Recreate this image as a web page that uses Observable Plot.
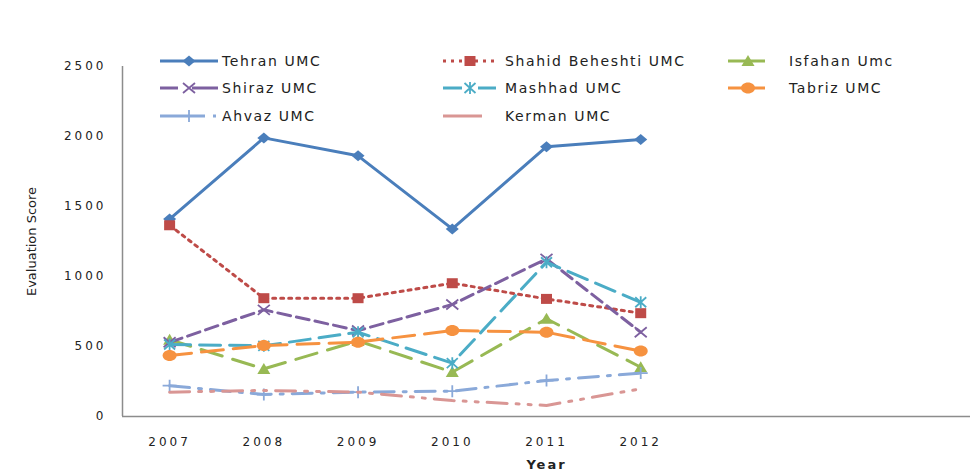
<!DOCTYPE html>
<html>
<head>
<meta charset="utf-8">
<script src="https://cdn.jsdelivr.net/npm/d3@7"></script>
<script src="https://cdn.jsdelivr.net/npm/@observablehq/plot@0.6"></script>
<style>
  html, body { margin: 0; padding: 0; background: #fff; }
  #wrap { position: relative; width: 979px; height: 471px; overflow: hidden; }
  #legend { position: absolute; left: 0; top: 0; pointer-events: none; }
  #wrap g[aria-label="y-axis tick label"] text { letter-spacing: 3px; }
  #wrap g[aria-label="x-axis tick label"] text { letter-spacing: 3px; }
  #wrap g[aria-label="x-axis label"] text { font-weight: bold; font-size: 13px; letter-spacing: 2px; }
  #wrap g[aria-label="y-axis label"] text { font-size: 13px; }
</style>
</head>
<body>
<div id="wrap"></div>
<script>
// ---- data ----
const years = [2007, 2008, 2009, 2010, 2011, 2012];
const yTicks = [0, 500, 1000, 1500, 2000, 2500];
const seriesNames = ["Tehran UMC", "Shahid Beheshti UMC", "Isfahan Umc", "Shiraz UMC", "Mashhad UMC", "Tabriz UMC", "Ahvaz UMC", "Kerman UMC"];
const tehran  = [1410, 1990, 1862, 1340, 1927, 1978];
const shahid  = [1366, 845, 845, 952, 840, 738];
const isfahan = [548, 340, 540, 317, 698, 352];
const shiraz  = [530, 762, 614, 800, 1126, 602];
const mashhad = [514, 505, 602, 381, 1102, 816];
const tabriz  = [436, 507, 531, 614, 602, 467];
const ahvaz   = [220, 157, 174, 181, 257, 310];
const kerman  = [174, 186, 174, 114, 79, 198];
const seriesValues = [tehran, shahid, isfahan, shiraz, mashhad, tabriz, ahvaz, kerman];

// ---- custom marker symbols ----
const sym = {
  diamond: { draw(c) { c.moveTo(0, -5.5); c.lineTo(6.5, 0); c.lineTo(0, 5.5); c.lineTo(-6.5, 0); c.closePath(); } },
  square: { draw(c) { c.moveTo(-5.5, -5); c.lineTo(5.5, -5); c.lineTo(5.5, 5); c.lineTo(-5.5, 5); c.closePath(); } },
  triangle: { draw(c) { c.moveTo(0, -6); c.lineTo(6.5, 5); c.lineTo(-6.5, 5); c.closePath(); } },
  times: { draw(c) { c.moveTo(-6, -5); c.lineTo(6, 5); c.moveTo(-6, 5); c.lineTo(6, -5); } },
  asterisk: { draw(c) { c.moveTo(-5.5, -5); c.lineTo(5.5, 5); c.moveTo(-5.5, 5); c.lineTo(5.5, -5); c.moveTo(0, -6); c.lineTo(0, 6); } },
  ellipse: { draw(c) { const rx = 7, ry = 5.5, k = 0.5523;
    c.moveTo(rx, 0);
    c.bezierCurveTo(rx, ry * k, rx * k, ry, 0, ry);
    c.bezierCurveTo(-rx * k, ry, -rx, ry * k, -rx, 0);
    c.bezierCurveTo(-rx, -ry * k, -rx * k, -ry, 0, -ry);
    c.bezierCurveTo(rx * k, -ry, rx, -ry * k, rx, 0);
    c.closePath(); } },
  plus: { draw(c) { c.moveTo(-7, 0); c.lineTo(7, 0); c.moveTo(0, -6); c.lineTo(0, 6); } }
};

// ---- styles ----
const styles = [
  { color: "#4A7EBB", dash: null, symbol: sym.diamond, filled: true, legendDash: null },
  { color: "#BE4B48", dash: "3 5", symbol: sym.square, filled: true, legendDash: "3 5" },
  { color: "#98B954", dash: "22 11", symbol: sym.triangle, filled: true, legendDash: null },
  { color: "#7D60A0", dash: "13 6", symbol: sym.times, filled: false, legendDash: "18 14 30" },
  { color: "#4BACC6", dash: "21 9", symbol: sym.asterisk, filled: false, legendDash: "19 16 30" },
  { color: "#F69240", dash: "22 10", symbol: sym.ellipse, filled: true, legendDash: null },
  { color: "#8AA9D9", dash: "20 9 3 9", symbol: sym.plus, filled: false, legendDash: "45 8 3 20" },
  { color: "#D99694", dash: "20 9 3 9 3 9", symbol: null, filled: false, legendDash: "39 14 3 20" }
];

const xDomain = [2006.5, 2015.5];

const seriesMarks = [];
seriesNames.forEach((name, i) => {
  const rows = years.map((yr, j) => ({ year: yr, value: seriesValues[i][j], series: name }));
  const st = styles[i];
  seriesMarks.push(Plot.line(rows, {
    x: "year", y: "value", stroke: st.color, strokeWidth: 3,
    strokeDasharray: st.dash || undefined, strokeLinejoin: "round", curve: "linear"
  }));
  if (st.symbol) {
    seriesMarks.push(Plot.dot(rows, st.filled
      ? { x: "year", y: "value", symbol: st.symbol, fill: st.color, stroke: "none", r: 5 }
      : { x: "year", y: "value", symbol: st.symbol, fill: "none", stroke: st.color, strokeWidth: 1.8, r: 5 }));
  }
});

const chart = Plot.plot({
  width: 979,
  height: 471,
  marginLeft: 122,
  marginRight: 9,
  marginTop: 66,
  marginBottom: 55,
  style: { fontFamily: "DejaVu Sans", fontSize: "12px", color: "#222", background: "#fff" },
  x: { domain: xDomain },
  y: { domain: [0, 2500] },
  marks: [
    Plot.axisY({ ticks: yTicks, tickSize: 0, tickPadding: 16, tickFormat: d => String(d),
      label: "Evaluation Score", labelAnchor: "center", labelOffset: 96, labelArrow: "none" }),
    Plot.axisX({ ticks: years, tickSize: 0, tickPadding: 21, tickFormat: d => String(d),
      label: "Year", labelAnchor: "center", labelOffset: 52, labelArrow: "none" }),
    Plot.ruleX([xDomain[0]], { stroke: "#8c8c8c", strokeWidth: 1.5 }),
    Plot.ruleY([0], { stroke: "#8c8c8c", strokeWidth: 1.5 }),
    ...seriesMarks
  ]
});
document.getElementById("wrap").appendChild(chart);

// ---- legend overlay ----
const legendCols = [
  { x0: 160, x1: 218, m: 189, tx: 222 },
  { x0: 443, x1: 496, m: 470, tx: 505 },
  { x0: 728, x1: 765, m: 748, tx: 789 }
];
const legendRows = [61, 88, 116];
const lg = d3.select("#wrap").append("svg")
  .attr("id", "legend").attr("width", 979).attr("height", 135);
seriesNames.forEach((name, i) => {
  const col = legendCols[i % 3], y = legendRows[Math.floor(i / 3)], st = styles[i];
  const g = lg.append("g");
  g.append("line").attr("x1", col.x0).attr("x2", col.x1).attr("y1", y).attr("y2", y)
    .attr("stroke", st.color).attr("stroke-width", 3)
    .attr("stroke-dasharray", st.legendDash || null);
  if (st.symbol) {
    g.append("path").attr("d", d3.symbol(st.symbol, 64)())
      .attr("transform", `translate(${col.m},${y})`)
      .attr("fill", st.filled ? st.color : "none")
      .attr("stroke", st.filled ? "none" : st.color)
      .attr("stroke-width", 1.8);
  }
  g.append("text").attr("x", col.tx).attr("y", y).attr("dy", "0.36em")
    .attr("font-family", "DejaVu Sans").attr("font-size", 14)
    .attr("letter-spacing", "1.6px").attr("fill", "#222").text(name);
});
</script>
</body>
</html>
